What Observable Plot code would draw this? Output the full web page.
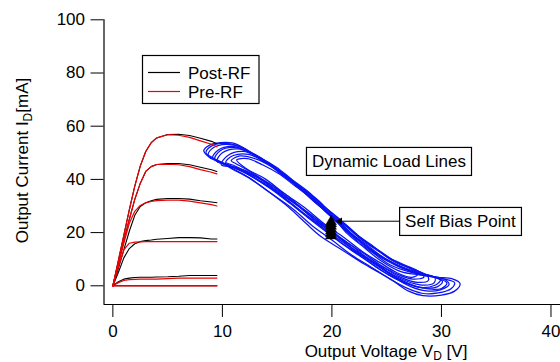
<!DOCTYPE html>
<html><head><meta charset="utf-8">
<script src="https://cdn.jsdelivr.net/npm/d3@7"></script>
<script src="https://cdn.jsdelivr.net/npm/@observablehq/plot@0.6"></script>
<style>
html,body{margin:0;padding:0;background:#fff;}
#chart svg{display:block;}
</style></head><body><div id="chart"></div>
<script>
// ---- DC I-V curves (drain voltage grid, six gate bias levels) ----
const vdIV = [0, 0.5, 1, 1.5, 2, 2.5, 3, 3.5, 4, 5, 6, 7, 8, 9, 9.5];
const postRF = [
  [0, 9.5, 19, 28.5, 37.5, 45, 50.5, 53.8, 55.6, 56.9, 57, 56.5, 55.5, 54.3, 53.4],
  [0, 8.5, 17, 25, 32.5, 38.5, 43, 44.8, 45.6, 46, 46, 45.5, 44.6, 43.6, 43],
  [0, 6.5, 13.5, 20.5, 26.5, 29.8, 31.2, 32, 32.5, 32.8, 32.8, 32.6, 32, 31.5, 31.2],
  [0, 5, 10.5, 14, 15.8, 16.6, 17, 17.2, 17.5, 17.8, 18.1, 18.1, 18, 17.6, 17.6],
  [0, 1.5, 2.5, 2.9, 3.1, 3.2, 3.2, 3.2, 3.3, 3.4, 3.6, 3.9, 3.9, 3.9, 3.9],
  [0, 0, 0, 0, 0, 0, 0, 0, 0, 0, 0, 0, 0, 0, 0]
];
const preRF = [
  [0, 9.5, 19, 28.5, 37.5, 45, 50.5, 53.8, 55.6, 56.8, 56.6, 55.8, 54.5, 53.2, 52.3],
  [0, 8.5, 17, 25, 32.5, 38.5, 43, 44.8, 45.6, 45.7, 45.5, 44.8, 43.7, 42.7, 42.1],
  [0, 8, 16, 23.5, 28, 30.2, 31.2, 31.7, 32, 32.2, 32.2, 31.8, 31.2, 30.5, 30],
  [0, 7, 13.5, 16, 16.4, 16.5, 16.6, 16.6, 16.6, 16.6, 16.6, 16.6, 16.6, 16.6, 16.6],
  [0, 1.2, 2, 2.3, 2.4, 2.5, 2.5, 2.5, 2.5, 2.7, 2.9, 2.9, 2.9, 2.9, 2.9],
  [0, 0, 0, 0, 0, 0, 0, 0, 0, 0, 0, 0, 0, 0, 0]
];

// ---- dynamic load lines: [Vd, Id] loops ----
const loop1 = [[8.3,50.8],[8.8,52.8],[9.8,53.8],[11,53.6],[12.5,50.5],[14,46.8],[15.5,42.3],[17,36.8],[18.5,31.2],[20,26.3],[21.4,19.6],[23,14.2],[24.4,9.6],[26.3,5.3],[28,4.1],[29.6,3.2],[31,2.6],[31.7,0.8],[31.2,-2],[30,-3.5],[28.3,-3.7],[27,-2],[25.6,1.8],[24,5.7],[22.9,8.3],[21,13.3],[19,18.5],[17.7,23.2],[16,29.7],[14.1,35.7],[12,41.7],[10.5,45],[9.5,47.1],[8.6,49]];
const loop2 = [[8.7,49.5],[9.2,52],[10.3,53.2],[11.8,52],[13.2,48.3],[14.8,44.2],[16.3,39.3],[17.8,34.2],[19.3,28.3],[20.8,22.7],[22.3,16.8],[23.8,12.2],[25.3,7.9],[27,5.3],[28.6,3.7],[30.2,2.6],[31.2,1.2],[30.9,-1],[29.7,-2.7],[28.2,-2.8],[26.8,-0.8],[25.3,2.6],[23.6,7],[21.8,11.6],[20,17.2],[18.2,22.6],[16.5,28.7],[14.6,34.3],[12.6,40.2],[10.8,44.1],[9.6,46.8],[8.8,48.3]];
const loop3 = [[9.1,48],[9.6,51],[10.9,52.4],[12.4,50.3],[13.9,46.7],[15.4,41.8],[16.9,37.2],[18.4,31.6],[19.9,26.2],[21.4,20.3],[22.9,15.5],[24.4,10.8],[25.9,7.6],[27.4,5.1],[29,3.7],[30.3,2.4],[30.7,0.5],[29.9,-1.5],[28.6,-1.9],[27.2,-0.3],[25.8,2.8],[24.2,6.6],[22.5,11.7],[20.7,16.6],[18.9,22.7],[17.1,28.1],[15.3,34.2],[13.4,39.3],[11.5,43.7],[10,46.2]];
const loop4 = [[9.5,46.8],[10,50],[11.4,51.5],[12.9,49.3],[14.4,45.7],[15.9,40.8],[17.4,36.2],[18.9,30.3],[20.4,25.2],[21.9,19.3],[23.4,14.7],[24.9,10.1],[26.4,7.1],[27.9,4.9],[29.3,3.4],[30.1,1.6],[29.6,-0.4],[28.4,-0.8],[27,0.8],[25.6,3.8],[24,8.2],[22.3,12.6],[20.5,18.5],[18.7,23.8],[16.9,30],[15.1,35.1],[13.2,40.7],[11.4,43.8],[10.1,45.8]];
const loop5 = [[9.9,45.5],[10.5,49],[11.9,50.5],[13.4,48.1],[14.9,44.7],[16.4,39.8],[17.9,35.2],[19.4,29.3],[20.9,24.2],[22.4,18.6],[23.9,14.2],[25.4,9.8],[26.9,7.1],[28.3,4.7],[29.4,3],[29.3,1],[28.2,0.3],[26.8,1.8],[25.3,4.8],[23.7,9.2],[22,13.8],[20.2,19.7],[18.4,25],[16.6,31.2],[14.8,36.3],[13,41.5],[11.3,44.5]];
const loop6 = [[10.3,46.5],[11,49],[12.5,49.3],[14,46.1],[15.5,42.5],[17,37.6],[18.5,33],[20,27.3],[21.5,22.2],[23,16.8],[24.5,12.7],[26,8.6],[27.5,6.1],[28.7,3.8],[28.8,2],[27.8,1.3],[26.4,3],[24.9,6.4],[23.3,10.3],[21.6,15.7],[19.8,20.8],[18,27],[16.2,32.3],[14.4,38],[12.6,42],[11,45.3]];
const loop7 = [[10.8,47],[11.6,48.8],[13.1,47.6],[14.6,44.5],[16.1,40],[17.6,35.7],[19.1,30.3],[20.6,25.4],[22.1,19.8],[23.6,15.4],[25.1,10.8],[26.6,7.9],[28,5.2],[28.4,3.3],[27.4,2.5],[26,4.3],[24.5,7.6],[22.9,12.2],[21.2,16.8],[19.4,22.7],[17.6,28.1],[15.8,34.2],[14,39.1],[12.2,43.7],[11.2,46]];
const loop8 = [[11.3,47.3],[12.3,47.8],[13.7,45.4],[15.2,42],[16.7,37.3],[18.2,33],[19.7,27.6],[21.2,22.7],[22.7,17.3],[24.2,13.2],[25.7,9.1],[27.1,6.6],[27.9,4.5],[27.3,3.2],[25.9,5],[24.4,8.7],[22.8,12.8],[21.1,18.2],[19.3,23.3],[17.5,29.4],[15.7,34.6],[13.9,40.2],[12.2,44]];
const loop9 = [[8.5,50],[9,52.5],[10,53.5],[11.3,52.8],[12.8,49.6],[14.3,45.8],[15.8,41.3],[17.3,36],[18.8,30.8],[20.3,25.4],[21.8,19.5],[23.3,14.5],[24.8,10.4],[26.5,6.8],[28.2,4.5],[29.8,2.8],[30.5,1],[30,-1],[28.8,-1.2],[27.4,0.2],[26,2.8],[24.5,6.5],[22.8,11.2],[21,16.4],[19.2,21.6],[17.4,27.4],[15.6,33.2],[13.7,38.8],[11.8,43.2],[10.2,46],[9,48.4]];
const loop10 = [[9.3,47.5],[9.8,50.8],[11.1,52],[12.6,50],[14.1,46],[15.6,41.5],[17.1,36.3],[18.6,31.2],[20.1,25.5],[21.6,20],[23.1,14.8],[24.6,10.7],[26.1,7.3],[27.6,5],[29.1,3.5],[29.9,2.2],[29.4,0.2],[28,-0.6],[26.6,1.2],[25.2,4],[23.5,8.6],[21.7,13.6],[19.8,19.3],[18,25],[16.2,30.9],[14.3,36.8],[12.4,41.7],[10.6,45.2]];

// ---- self-bias point markers ----
const biasVd = [19.9, 19.9, 19.9, 19.92, 19.92, 19.93, 19.93];
const biasId = [18.8, 19.7, 20.6, 21.5, 22.4, 23.3, 24.1];

// ---- axes ----
const xTicks = [0, 10, 20, 30, 40];
const yTicks = [0, 20, 40, 60, 80, 100];
const xDomain = [-0.81, 40.87];
const yDomain = [-7.03, 100];

// ---- annotations (data coordinates) ----
const annoText = ["Dynamic Load Lines", "Self Bias Point"];
const annoVd = [25.21, 31.73];
const annoId = [46.73, 24.17];
const arrowFrom = [26.17, 24.28];
const arrowTo = [20.95, 24.28];
const arrowHead = [20.72, 24.28];

const legendLabels = ["Post-RF", "Pre-RF"];
const colors = {post: "#000000", pre: "#ee0000", loop: "#0a14f0"};

// build tables
const loops = [loop1, loop2, loop9, loop3, loop10, loop4, loop5, loop6, loop7, loop8];
const loopRows = loops.flatMap((pts, k) => pts.map(([vd, id]) => ({vd, id, loop: k})));
const ivRows = (set) => set.flatMap((curve, c) => curve.map((id, i) => ({vd: vdIV[i], id, curve: c})));
const postRows = ivRows(postRF);
const preRows = ivRows(preRF);
const biasRows = biasVd.map((vd, i) => ({vd, id: biasId[i]}));
const annoRows = annoText.map((t, i) => ({t, vd: annoVd[i], id: annoId[i]}));

const FONT = '"Liberation Sans", Arial, Helvetica, sans-serif';

const plot = Plot.plot({
  width: 560, height: 362,
  marginLeft: 103.5, marginRight: 0, marginTop: 19.3, marginBottom: 58,
  style: {fontFamily: FONT, fontSize: "17px", color: "black", background: "white", overflow: "visible"},
  x: {domain: xDomain},
  y: {domain: yDomain},
  marks: [
    Plot.line(loopRows, {x: "vd", y: "id", z: "loop", stroke: colors.loop, strokeWidth: 1.25, curve: "catmull-rom-closed"}),
    Plot.line(postRows, {x: "vd", y: "id", z: "curve", stroke: colors.post, strokeWidth: 1.1}),
    Plot.line(preRows, {x: "vd", y: "id", z: "curve", stroke: colors.pre, strokeWidth: 1.2}),
    Plot.dot(biasRows, {x: "vd", y: "id", symbol: "triangle", r: 4, fill: "black", stroke: "black", strokeWidth: 0.5}),
    Plot.link([0], {x1: () => arrowFrom[0], y1: () => arrowFrom[1], x2: () => arrowTo[0], y2: () => arrowTo[1], stroke: "black", strokeWidth: 1}),
    Plot.dot([0], {x: () => arrowHead[0], y: () => arrowHead[1], symbol: "triangle", r: 2.8, rotate: -90, fill: "black", stroke: "none"}),
    Plot.text(annoRows, {x: "vd", y: "id", text: "t", fontSize: 17, fill: "black"}),
    Plot.ruleX([xDomain[0]], {y1: yDomain[0], y2: 100, stroke: "black", strokeWidth: 1.2}),
    Plot.ruleY([yDomain[0]], {x1: xDomain[0], x2: xDomain[1], stroke: "black", strokeWidth: 1.2}),
    Plot.axisY({ticks: yTicks, tickSize: 13, tickPadding: 6, fontSize: 17, label: null, tickFormat: d => d}),
    Plot.axisX({ticks: xTicks, tickSize: 13, tickPadding: 7, fontSize: 17, label: null, tickFormat: d => d})
  ]
});

document.getElementById("chart").appendChild(plot);
const svg = d3.select(plot);

// boxes around annotation texts
svg.selectAll('g[aria-label="text"] text').each(function() {
  const b = this.getBBox();
  const cy = b.y + b.height / 2;
  const tr = this.getAttribute("transform");
  const r = d3.select(this.parentNode).insert("rect", () => this)
    .attr("x", b.x - 5.5).attr("y", cy - 14).attr("width", b.width + 11).attr("height", 28)
    .attr("fill", "white").attr("stroke", "black").attr("stroke-width", 1.2);
  if (tr) r.attr("transform", tr);
});

// legend
const lg = svg.append("g").attr("font-family", FONT).attr("font-size", 17).attr("text-anchor", "start");
lg.append("rect").attr("x", 142.5).attr("y", 55.5).attr("width", 116.5).attr("height", 48)
  .attr("fill", "white").attr("stroke", "black").attr("stroke-width", 1.2);
[colors.post, colors.pre].forEach((c, i) => {
  const y = 72.5 + i * 19;
  lg.append("line").attr("x1", 148).attr("x2", 180).attr("y1", y).attr("y2", y).attr("stroke", c).attr("stroke-width", 1.2);
  lg.append("text").attr("x", 188).attr("y", y + 6).attr("text-anchor", "start").attr("fill", "black").text(legendLabels[i]);
});

// axis titles
const yt = svg.append("text").attr("font-family", FONT).attr("font-size", 17).attr("fill", "black")
  .attr("text-anchor", "middle").attr("transform", "translate(28,160.5) rotate(-90)");
yt.append("tspan").text("Output Current I");
yt.append("tspan").attr("font-size", 12).attr("dy", 4).text("D");
yt.append("tspan").attr("dy", -4).text("[mA]");

const xt = svg.append("text").attr("font-family", FONT).attr("font-size", 17).attr("fill", "black")
  .attr("text-anchor", "middle").attr("x", 386).attr("y", 356.5);
xt.append("tspan").text("Output Voltage V");
xt.append("tspan").attr("font-size", 12).attr("dy", 3).text("D");
xt.append("tspan").attr("dy", -3).text(" [V]");
</script></body></html>
